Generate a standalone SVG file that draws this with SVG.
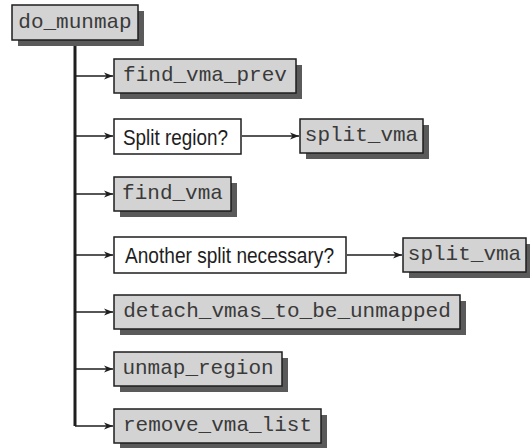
<svg xmlns="http://www.w3.org/2000/svg" width="530" height="448" viewBox="0 0 530 448">
<defs>
<style>
.shadow{fill:#5a5a5a}
.fn{fill:#d3d3d3;stroke:#1e1e1e;stroke-width:1.5}
.q{fill:#ffffff;stroke:#1e1e1e;stroke-width:1.5}
.mono{font-family:"Liberation Mono","Courier New",monospace;font-size:21px;fill:#3a3a3a}
.sans{font-family:"Liberation Sans Narrow","Liberation Sans",Arial,sans-serif;font-size:22.5px;fill:#1e1e1e}
.trunk{stroke:#1e1e1e;stroke-width:3;fill:none}
.arr{stroke:#1e1e1e;stroke-width:1.5;fill:none;marker-end:url(#ah)}
</style>
<marker id="ah" markerWidth="10" markerHeight="8" refX="9" refY="4" orient="auto" markerUnits="userSpaceOnUse">
<path d="M0,0.5 L9,4 L0,7.5 L2.5,4 Z" fill="#1e1e1e"/>
</marker>
</defs>
<g id="connectors">
<line class="trunk" x1="75" y1="40" x2="75" y2="426"/>
<line class="arr" x1="75" y1="76" x2="113" y2="76"/>
<line class="arr" x1="75" y1="136" x2="113" y2="136"/>
<line class="arr" x1="242" y1="136" x2="299" y2="136"/>
<line class="arr" x1="75" y1="194" x2="113" y2="194"/>
<line class="arr" x1="75" y1="255" x2="113" y2="255"/>
<line class="arr" x1="347" y1="255" x2="402" y2="255"/>
<line class="arr" x1="75" y1="312" x2="113" y2="312"/>
<line class="arr" x1="75" y1="369" x2="113" y2="369"/>
<line class="arr" x1="75" y1="426" x2="113" y2="426"/>
</g>
<g id="do_munmap">
<rect class="shadow" x="18" y="11" width="126" height="35"/>
<rect class="fn" x="12" y="5" width="126" height="35"/>
<text class="mono" x="75" y="28" text-anchor="middle">do_munmap</text>
</g>
<g id="find_vma_prev">
<rect class="shadow" x="120" y="65" width="182" height="34"/>
<rect class="fn" x="114" y="59" width="182" height="34"/>
<text class="mono" x="205" y="81" text-anchor="middle">find_vma_prev</text>
</g>
<g id="split_region">
<rect class="q" x="114" y="119" width="127" height="35"/>
<text class="sans" x="123" y="144.5" textLength="105" lengthAdjust="spacingAndGlyphs">Split region?</text>
</g>
<g id="split_vma_1">
<rect class="shadow" x="306" y="125" width="123" height="34"/>
<rect class="fn" x="300" y="119" width="123" height="34"/>
<text class="mono" x="361.5" y="141" text-anchor="middle">split_vma</text>
</g>
<g id="find_vma">
<rect class="shadow" x="120" y="183" width="117" height="34"/>
<rect class="fn" x="114" y="177" width="117" height="34"/>
<text class="mono" x="172.5" y="199" text-anchor="middle">find_vma</text>
</g>
<g id="another_split">
<rect class="q" x="114" y="237" width="232" height="36"/>
<text class="sans" x="125" y="263" textLength="209" lengthAdjust="spacingAndGlyphs">Another split necessary?</text>
</g>
<g id="split_vma_2">
<rect class="shadow" x="409" y="244" width="123" height="34"/>
<rect class="fn" x="403" y="238" width="123" height="34"/>
<text class="mono" x="464.5" y="260" text-anchor="middle">split_vma</text>
</g>
<g id="detach_vmas_to_be_unmapped">
<rect class="shadow" x="120" y="301" width="346" height="34"/>
<rect class="fn" x="114" y="295" width="346" height="34"/>
<text class="mono" x="287" y="317" text-anchor="middle">detach_vmas_to_be_unmapped</text>
</g>
<g id="unmap_region">
<rect class="shadow" x="120" y="358" width="168" height="34"/>
<rect class="fn" x="114" y="352" width="168" height="34"/>
<text class="mono" x="198" y="374" text-anchor="middle">unmap_region</text>
</g>
<g id="remove_vma_list">
<rect class="shadow" x="120" y="415" width="207" height="34"/>
<rect class="fn" x="114" y="409" width="207" height="34"/>
<text class="mono" x="217.5" y="431" text-anchor="middle">remove_vma_list</text>
</g>
</svg>
